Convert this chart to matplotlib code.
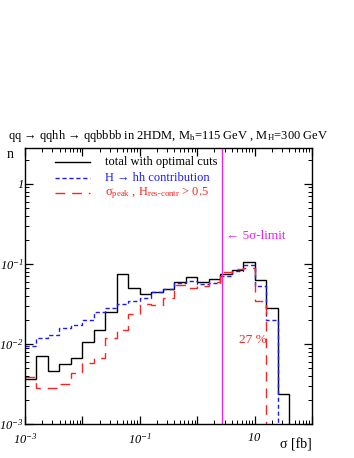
import numpy as np
import matplotlib
matplotlib.use("Agg")
import matplotlib.pyplot as plt

plt.rcParams['font.family'] = ['Liberation Serif', 'DejaVu Serif']
plt.rcParams['mathtext.fontset'] = 'custom'
# italic numbers on the tick labels, upright sub/superscripts elsewhere via \mathsf
plt.rcParams['mathtext.rm'] = 'Liberation Serif:italic'
plt.rcParams['mathtext.it'] = 'Liberation Serif:italic'
plt.rcParams['mathtext.sf'] = 'Liberation Serif'

# bin edges in log10(sigma/fb), 0.2 decade wide
log_edges = np.arange(-3.0, 2.0001, 0.2)

total = [3.7e-3, 7.1e-3, 4.6e-3, 5.6e-3, 6.6e-3, 1.05e-2, 1.5e-2, 2.5e-2,
         7.5e-2, 5.0e-2, 4.2e-2, 4.4e-2, 4.8e-2, 6.0e-2, 6.9e-2, 5.9e-2,
         6.5e-2, 7.4e-2, 8.4e-2, 1.05e-1, 6.3e-2, 2.8e-2, 2.35e-3, 0, 0]
h_hh = [9.3e-3, 1.2e-2, 1.3e-2, 1.57e-2, 1.74e-2, 2.0e-2, 2.5e-2, 2.8e-2,
        3.2e-2, 3.4e-2, 3.7e-2, 4.4e-2, 4.9e-2, 5.8e-2, 6.1e-2, 5.6e-2,
        5.8e-2, 7.1e-2, 8.2e-2, 9.7e-2, 5.3e-2, 2.0e-2, 0, 0, 0]
peak = [3.9e-3, 2.8e-3, 2.8e-3, 3.2e-3, 4.3e-3, 5.8e-3, 6.7e-3, 1.2e-2,
        1.5e-2, 2.4e-2, 3.2e-2, 3.1e-2, 3.7e-2, 5.5e-2, 5.0e-2, 5.3e-2,
        5.9e-2, 8.0e-2, 8.6e-2, 9.0e-2, 3.4e-2, 0, 0, 0, 0]

limit_5sigma = 2.7  # fb

edges = 10 ** log_edges

fig = plt.figure(figsize=(3.54, 4.58), dpi=100)
ax = fig.add_axes([0.0706, 0.0742, 0.8107, 0.6026])

ax.stairs(total, edges, baseline=None, color='black', lw=1.0)
ax.stairs(h_hh, edges, baseline=None, color='#1a1aff', lw=1.0, linestyle=(0, (3, 2)))
ax.stairs(peak, edges, baseline=None, color='#ff2020', lw=1.0, linestyle=(0, (7, 5)))
ax.axvline(limit_5sigma, color='#ee22ee', lw=1.0)

ax.set_xscale('log')
ax.set_yscale('log')
ax.set_xlim(1e-3, 1e2)
ax.set_ylim(1e-3, 2.8)

ax.set_xticks([1e-3, 1e-2, 1e-1, 1, 10, 100])
ax.set_xticklabels([r'$10^{-3}$', '', r'$10^{-1}$', '', r'$10$', ''])
ax.set_yticks([1e-3, 1e-2, 1e-1, 1])
ax.set_yticklabels([r'$10^{-3}$', r'$10^{-2}$', r'$10^{-1}$', r'$1$'])
ax.tick_params(which='both', direction='in', top=True, right=True, labelsize=9)
ax.tick_params(which='major', length=6, width=0.9)
ax.tick_params(which='minor', length=3, width=0.7)
ax.tick_params(axis='x', pad=6)
ax.tick_params(axis='y', pad=1)
for s in ax.spines.values():
    s.set_linewidth(1.0)

# legend
ax.plot([0.105, 0.227], [0.949, 0.949], transform=ax.transAxes, color='black', lw=1.0)
ax.plot([0.105, 0.227], [0.893, 0.893], transform=ax.transAxes, color='#1a1aff', lw=1.0,
        linestyle=(0, (3, 2)))
ax.plot([0.105, 0.227], [0.837, 0.837], transform=ax.transAxes, color='#ff2020', lw=1.0,
        linestyle=(0, (7, 5)))
ax.text(0.279, 0.949, 'total with optimal cuts', transform=ax.transAxes, fontsize=9,
        va='center', color='black')
ax.text(0.279, 0.893, 'H → hh contribution', transform=ax.transAxes, fontsize=9,
        va='center', color='#1a1aff')
ax.text(0.279, 0.837, r'σ$_{\mathsf{peak}}$ , H$_{\mathsf{res\text{-}contr}}$ > 0.5',
        transform=ax.transAxes, fontsize=9, va='center', color='#ff2020')

ax.text(0.702, 0.68, '← 5σ-limit', transform=ax.transAxes, fontsize=9.5,
        va='center', color='#ee22ee')
ax.text(0.745, 0.305, '27 %', transform=ax.transAxes, fontsize=9.5, va='center', color='#ff2020')

fig.text(0.028, 0.662, 'n', fontsize=10, va='center', ha='center')
fig.text(0.882, 0.028, 'σ [fb]', fontsize=10, va='center', ha='right')
fig.text(0.475, 0.702, r'qq → qqhh → qqbbbb in 2HDM, M$_{\mathsf{h}}$=115 GeV , M$_{\mathsf{H}}$=300 GeV',
         fontsize=9, ha='center', va='center')

fig.savefig('out.png', dpi=100)
